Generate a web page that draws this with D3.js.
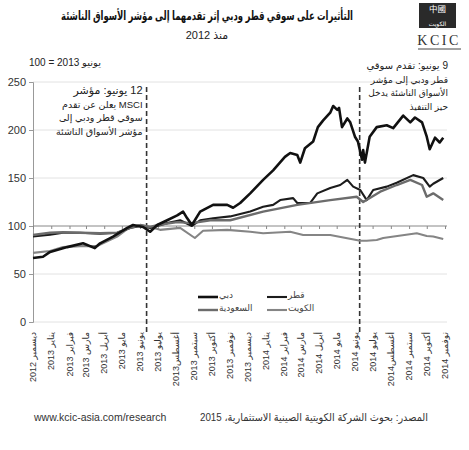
<!DOCTYPE html>
<html>
<head>
<meta charset="utf-8">
<script src="https://cdn.jsdelivr.net/npm/d3@7"></script>
<style>
  body { margin: 0; background: #fff; }
  svg { display: block; font-family: "Liberation Sans", Arial, "DejaVu Sans", sans-serif; }
</style>
</head>
<body>
<div id="chart"></div>
<script>
// values (June 2013 = 100)
var dubai = [
  ["2012-12-01", 66.7], ["2012-12-18", 68], ["2012-12-30", 73], ["2013-01-28", 78],
  ["2013-02-24", 82], ["2013-03-16", 77], ["2013-03-25", 82], ["2013-04-16", 89],
  ["2013-05-10", 98], ["2013-05-20", 101], ["2013-06-06", 99], ["2013-06-18", 94],
  ["2013-06-30", 101], ["2013-07-17", 106], ["2013-08-03", 111], ["2013-08-13", 115],
  ["2013-08-20", 108], ["2013-08-28", 101], ["2013-09-11", 115], ["2013-10-03", 122],
  ["2013-10-27", 122], ["2013-11-06", 119], ["2013-11-18", 124], ["2013-12-05", 134],
  ["2013-12-27", 148], ["2014-01-13", 158], ["2014-02-02", 172], ["2014-02-11", 176],
  ["2014-02-23", 174], ["2014-02-28", 166], ["2014-03-08", 181], ["2014-03-22", 188],
  ["2014-03-30", 203], ["2014-04-08", 210], ["2014-04-20", 218], ["2014-04-25", 225],
  ["2014-05-02", 221], ["2014-05-05", 223], ["2014-05-10", 203], ["2014-05-19", 212],
  ["2014-05-24", 208], ["2014-06-01", 193], ["2014-06-06", 188], ["2014-06-13", 169],
  ["2014-06-15", 179], ["2014-06-18", 166], ["2014-06-26", 193], ["2014-07-08", 203],
  ["2014-07-25", 205], ["2014-08-05", 202], ["2014-08-22", 215], ["2014-09-03", 208],
  ["2014-09-11", 213], ["2014-09-23", 208], ["2014-10-01", 193], ["2014-10-06", 180],
  ["2014-10-15", 192], ["2014-10-23", 187], ["2014-10-29", 192]
];
var qatar = [
  ["2012-12-01", 89], ["2012-12-30", 91], ["2013-01-21", 93], ["2013-02-19", 93],
  ["2013-03-25", 92], ["2013-04-23", 93], ["2013-05-15", 98], ["2013-06-01", 100],
  ["2013-06-18", 98], ["2013-06-30", 100], ["2013-07-17", 103], ["2013-08-08", 106],
  ["2013-08-28", 100], ["2013-09-11", 106], ["2013-10-03", 108], ["2013-11-01", 110],
  ["2013-12-05", 115], ["2013-12-27", 120], ["2014-01-13", 122], ["2014-01-25", 127],
  ["2014-02-16", 129], ["2014-02-23", 124], ["2014-03-17", 124], ["2014-03-29", 134],
  ["2014-04-20", 139.6], ["2014-05-07", 142.7], ["2014-05-19", 148], ["2014-05-29", 141],
  ["2014-06-10", 137.5], ["2014-06-21", 127], ["2014-07-02", 137.5], ["2014-07-25", 141],
  ["2014-08-11", 145], ["2014-09-08", 153], ["2014-09-25", 150], ["2014-10-06", 141],
  ["2014-10-12", 144], ["2014-10-29", 150]
];
var saudi = [
  ["2012-12-01", 90.6], ["2012-12-30", 93], ["2013-01-21", 93.5], ["2013-02-19", 93],
  ["2013-03-25", 92.5], ["2013-04-23", 93], ["2013-05-15", 98], ["2013-06-01", 101],
  ["2013-06-18", 99], ["2013-06-30", 101], ["2013-08-03", 104], ["2013-08-28", 103],
  ["2013-09-28", 106], ["2013-11-01", 106], ["2013-12-27", 115], ["2014-02-23", 122],
  ["2014-04-20", 127], ["2014-06-04", 130.5], ["2014-06-15", 125], ["2014-07-14", 135.7],
  ["2014-08-11", 142.7], ["2014-09-03", 148], ["2014-09-23", 142.7], ["2014-10-01", 130.5],
  ["2014-10-12", 134], ["2014-10-29", 127]
];
var kuwait = [
  ["2012-12-01", 72], ["2012-12-30", 74], ["2013-01-21", 78], ["2013-02-19", 79],
  ["2013-03-20", 79], ["2013-04-23", 89], ["2013-05-15", 99], ["2013-06-01", 101],
  ["2013-06-18", 99], ["2013-07-05", 96], ["2013-08-08", 98], ["2013-09-02", 87.5],
  ["2013-09-16", 95], ["2013-10-27", 96], ["2013-12-05", 94], ["2013-12-27", 92.5],
  ["2014-02-11", 94], ["2014-03-05", 90.6], ["2014-04-20", 90.6], ["2014-06-10", 84.7],
  ["2014-06-21", 84.7], ["2014-07-08", 85.4], ["2014-07-19", 87.5], ["2014-09-14", 92.5],
  ["2014-10-01", 89.6], ["2014-10-12", 89], ["2014-10-29", 86.5]
];

var seriesNames = ["دبي", "قطر", "السعودية", "الكويت"];
var tickLabels = [
  "ديسمبر 2012", "يناير 2013", "فبراير 2013", "مارس 2013", "أبريل 2013", "مايو 2013",
  "يونيو 2013", "يوليو 2013", "أغسطس2013", "سبتمبر 2013", "أكتوبر 2013", "نوفمبر 2013",
  "ديسمبر 2013", "يناير 2014", "فبراير 2014", "مارس 2014", "أبريل 2014", "مايو 2014",
  "يونيو 2014", "يوليو 2014", "أغسطس2014", "سبتمبر 2014", "أكتوبر 2014", "نوفمبر 2014"
];
var yTicks = [0, 50, 100, 150, 200, 250];
var eventDates = ["2013-06-12", "2014-06-09"];
var note1 = ["12 يونيو: مؤشر", "MSCI يعلن عن تقدم", "سوقي قطر ودبي إلى", "مؤشر الأسواق الناشئة"];
var note2 = ["9 يونيو: تقدم سوقي", "قطر ودبي إلى مؤشر", "الأسواق الناشئة يدخل", "حيز التنفيذ"];

var W = 469, H = 450;
var parse = d3.timeParse("%Y-%m-%d");
var start = parse("2012-12-01");

var svg = d3.select("#chart").append("svg").attr("width", W).attr("height", H);

var x = d3.scaleTime().domain([start, parse("2014-11-01")]).range([33, 445]);
var y = d3.scaleLinear().domain([0, 250]).range([322, 82]);

// title + logo
svg.append("text").attr("x", 207).attr("y", 20).attr("text-anchor", "middle")
  .attr("direction", "rtl").attr("textLength", 292).attr("lengthAdjust", "spacingAndGlyphs")
  .style("font-weight", "bold").style("font-size", "12.5px").attr("fill", "#111")
  .text("التأثيرات على سوقي قطر ودبي إثر تقدمهما إلى مؤشر الأسواق الناشئة");
svg.append("text").attr("x", 207).attr("y", 39).attr("text-anchor", "middle")
  .attr("direction", "rtl").style("font-size", "11px").attr("fill", "#222").text("منذ 2012");

var logo = svg.append("g");
logo.append("rect").attr("x", 419).attr("y", 3).attr("width", 37).attr("height", 25).attr("fill", "#2a2a2a");
logo.append("text").attr("x", 437.5).attr("y", 12).attr("text-anchor", "middle")
  .style("font-size", "8.5px").style("font-family", "Noto Sans CJK TC").attr("fill", "#fff").text("中國");
logo.append("text").attr("x", 437.5).attr("y", 25.5).attr("text-anchor", "middle").attr("direction", "rtl")
  .style("font-size", "6px").attr("fill", "#fff").text("الكويت");
logo.append("text").attr("x", 439).attr("y", 45).attr("text-anchor", "middle")
  .style("font-family", "Liberation Serif").style("font-size", "14px").style("letter-spacing", "2.5px")
  .attr("fill", "#333").text("KCIC");
logo.append("line").attr("x1", 418).attr("x2", 461).attr("y1", 49).attr("y2", 49)
  .attr("stroke", "#444").attr("stroke-width", 1);

svg.append("text").attr("x", 65).attr("y", 66).attr("text-anchor", "middle").attr("direction", "rtl")
  .style("font-size", "10px").attr("fill", "#222").text("يونيو 2013 = 100");

// grid
svg.append("g").selectAll("line").data(yTicks.filter(function(d) { return d !== 100; }))
  .enter().append("line")
  .attr("x1", 33).attr("x2", 447)
  .attr("y1", function(d) { return y(d); }).attr("y2", function(d) { return y(d); })
  .attr("stroke", "#e2e2e2").attr("stroke-width", 1);

// y axis
var yAxis = svg.append("g").attr("transform", "translate(33,0)")
  .call(d3.axisLeft(y).tickValues(yTicks).tickSize(4).tickPadding(3));
yAxis.select(".domain").attr("stroke", "#999");
yAxis.selectAll(".tick line").attr("stroke", "#999");
yAxis.selectAll(".tick text").style("font-size", "11px").attr("fill", "#333");

// x axis crossing at 100, ticks only
var tickDates = tickLabels.map(function(d, i) { return d3.timeMonth.offset(start, i); });
var xAxis = svg.append("g").attr("transform", "translate(0," + y(100) + ")")
  .call(d3.axisBottom(x).tickValues(tickDates).tickSize(3).tickFormat(""));
xAxis.select(".domain").attr("stroke", "#888").attr("d", "M33,0H447");
xAxis.selectAll(".tick line").attr("stroke", "#888");

// month labels at bottom
svg.append("g").selectAll("text").data(tickDates).enter().append("text")
  .attr("transform", function(d) { return "translate(" + x(d) + ",332) rotate(-90)"; })
  .attr("direction", "rtl").attr("text-anchor", "start").attr("dy", "0.35em")
  .style("font-size", "9px").attr("fill", "#333")
  .text(function(d, i) { return tickLabels[i]; });

// event lines
svg.append("g").selectAll("line").data(eventDates).enter().append("line")
  .attr("x1", function(d) { return x(parse(d)); }).attr("x2", function(d) { return x(parse(d)); })
  .attr("y1", 87).attr("y2", 334)
  .attr("stroke", "#333").attr("stroke-width", 1.6).attr("stroke-dasharray", "5,3");

// series (drawn kuwait, qatar, saudi, dubai)
var series = [
  { name: seriesNames[0], data: dubai, color: "#111", width: 2.6 },
  { name: seriesNames[1], data: qatar, color: "#1c1c1c", width: 2.1 },
  { name: seriesNames[2], data: saudi, color: "#6c6c6c", width: 2.4 },
  { name: seriesNames[3], data: kuwait, color: "#858585", width: 2.1 }
];
var line = d3.line()
  .x(function(d) { return x(parse(d[0])); })
  .y(function(d) { return y(d[1]); });

svg.append("g").selectAll("path").data([series[3], series[1], series[2], series[0]]).enter().append("path")
  .attr("d", function(s) { return line(s.data); })
  .attr("fill", "none")
  .attr("stroke", function(s) { return s.color; })
  .attr("stroke-width", function(s) { return s.width; })
  .attr("stroke-linejoin", "round");

// legend
var legPos = [[198, 297], [267, 297], [198, 310], [267, 310]];
var leg = svg.append("g").selectAll("g").data(series).enter().append("g")
  .attr("transform", function(d, i) { return "translate(" + legPos[i][0] + "," + legPos[i][1] + ")"; });
leg.append("line").attr("x1", 0).attr("x2", 20).attr("y1", 0).attr("y2", 0)
  .attr("stroke", function(d) { return d.color; })
  .attr("stroke-width", function(d) { return d.width; });
leg.append("text").attr("x", 21).attr("y", 0).attr("dy", "0.1em")
  .attr("direction", "rtl").attr("text-anchor", "end")
  .style("font-size", "9px").attr("fill", "#444")
  .text(function(d) { return d.name; });

// annotations, set just beside their event lines
var ev1 = x(parse(eventDates[0])), ev2 = x(parse(eventDates[1]));
svg.append("g").selectAll("text").data(note1).enter().append("text")
  .attr("x", ev1 - 4).attr("y", function(d, i) { return 94 + i * 13.5; })
  .attr("direction", "rtl").attr("text-anchor", "start")
  .style("font-size", function(d, i) { return i === 0 ? "11px" : "9.5px"; }).attr("fill", "#222")
  .text(function(d) { return d; });
svg.append("g").selectAll("text").data(note2).enter().append("text")
  .attr("x", 448).attr("y", function(d, i) { return 69 + i * 13.5; })
  .attr("direction", "rtl").attr("text-anchor", "start")
  .style("font-size", function(d, i) { return i === 0 ? "10px" : "9px"; }).attr("fill", "#222")
  .text(function(d) { return d; });

// footer
svg.append("text").attr("x", 34).attr("y", 421).style("font-size", "10.5px").attr("fill", "#333")
  .text("www.kcic-asia.com/research");
svg.append("text").attr("x", 428).attr("y", 421).attr("direction", "rtl").attr("text-anchor", "start")
  .attr("textLength", 228).attr("lengthAdjust", "spacingAndGlyphs")
  .style("font-size", "10.5px").attr("fill", "#333")
  .text("المصدر: بحوث الشركة الكويتية الصينية الاستثمارية، 2015");
</script>
</body>
</html>
